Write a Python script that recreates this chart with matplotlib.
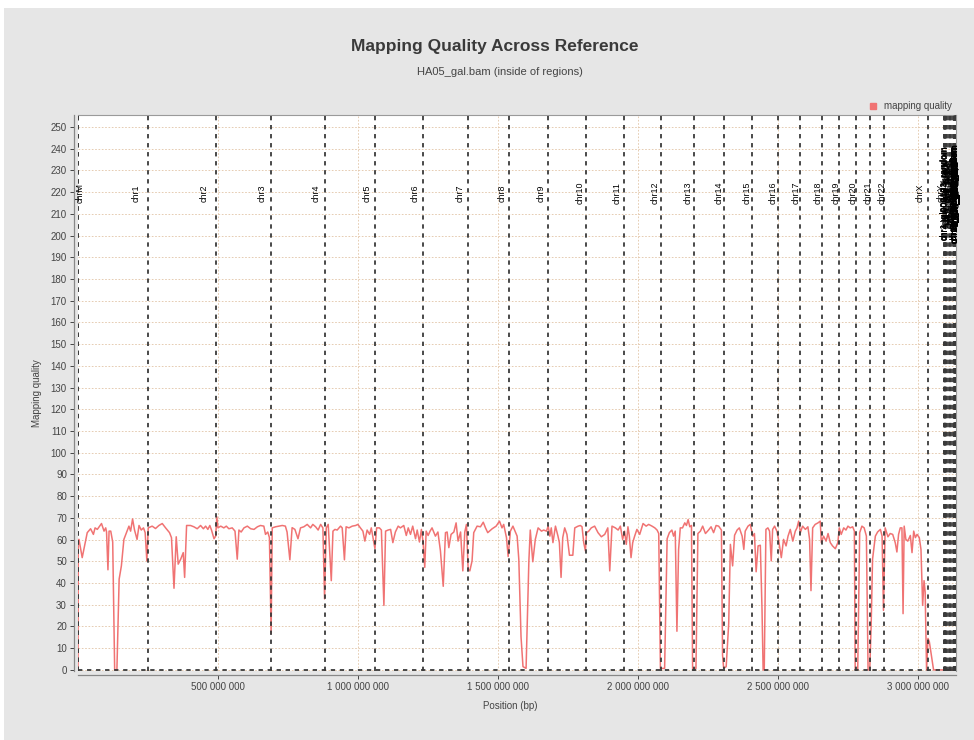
import matplotlib
matplotlib.use("Agg")
import matplotlib.pyplot as plt
from matplotlib import font_manager
from matplotlib.lines import Line2D
from matplotlib.patches import Rectangle
import numpy as np

# reference contigs (hg19 order, chrM first)
chrom_names = [
    "chrM", "chr1", "chr2", "chr3", "chr4", "chr5", "chr6", "chr7", "chr8", "chr9",
    "chr10", "chr11", "chr12", "chr13", "chr14", "chr15", "chr16", "chr17", "chr18",
    "chr19", "chr20", "chr21", "chr22", "chrX", "chrY",
    "chr1_gl000191_random", "chr1_gl000192_random", "chr4_ctg9_hap1",
    "chr4_gl000193_random", "chr4_gl000194_random", "chr6_apd_hap1", "chr6_cox_hap2",
    "chr6_dbb_hap3", "chr6_mann_hap4", "chr6_mcf_hap5", "chr6_qbl_hap6", "chr6_ssto_hap7",
    "chr7_gl000195_random", "chr8_gl000196_random", "chr8_gl000197_random",
    "chr9_gl000198_random", "chr9_gl000199_random", "chr9_gl000200_random",
    "chr9_gl000201_random", "chr11_gl000202_random", "chr17_ctg5_hap1",
    "chr17_gl000203_random", "chr17_gl000204_random", "chr17_gl000205_random",
    "chr17_gl000206_random", "chr18_gl000207_random", "chr19_gl000208_random",
    "chr19_gl000209_random", "chr21_gl000210_random",
    "chrUn_gl000211", "chrUn_gl000212", "chrUn_gl000213", "chrUn_gl000214",
    "chrUn_gl000215", "chrUn_gl000216", "chrUn_gl000217", "chrUn_gl000218",
    "chrUn_gl000219", "chrUn_gl000220", "chrUn_gl000221", "chrUn_gl000222",
    "chrUn_gl000223", "chrUn_gl000224", "chrUn_gl000225", "chrUn_gl000226",
    "chrUn_gl000227", "chrUn_gl000228", "chrUn_gl000229", "chrUn_gl000230",
    "chrUn_gl000231", "chrUn_gl000232", "chrUn_gl000233", "chrUn_gl000234",
    "chrUn_gl000235", "chrUn_gl000236", "chrUn_gl000237", "chrUn_gl000238",
    "chrUn_gl000239", "chrUn_gl000240", "chrUn_gl000241", "chrUn_gl000242",
    "chrUn_gl000243", "chrUn_gl000244", "chrUn_gl000245", "chrUn_gl000246",
    "chrUn_gl000247", "chrUn_gl000248", "chrUn_gl000249",
]
chrom_lengths = [
    16571, 249250621, 243199373, 198022430, 191154276, 180915260, 171115067,
    159138663, 146364022, 141213431, 135534747, 135006516, 133851895, 115169878,
    107349540, 102531392, 90354753, 81195210, 78077248, 59128983, 63025520,
    48129895, 51304566, 155270560, 59373566,
    106433, 547496, 590426, 189789, 191469, 4622290, 4795371, 4610396, 4683263,
    4833398, 4611984, 4928567, 182896, 38914, 37175, 90085, 169874, 187035, 36148,
    40103, 1680828, 37498, 81310, 174588, 41001, 4262, 92689, 159169, 27682,
    166566, 186858, 164239, 137718, 172545, 172294, 172149, 161147, 179198, 161802,
    155397, 186861, 180455, 179693, 211173, 15008, 128374, 129120, 19913, 43691,
    27386, 40652, 45941, 40531, 34474, 41934, 45867, 39939, 33824, 41933, 42152,
    43523, 43341, 39929, 36651, 38154, 36422, 39786, 38502,
]

# mapping quality along the reference (position in Mb, mean MQ)
mq_pos_mb = [
    0, 1, 3.5, 15, 27, 33, 45, 55, 61, 69, 84, 93, 99, 102, 107, 111, 117, 124, 131, 139,
    147, 155, 164, 174, 182, 188, 195, 202, 211, 218, 226, 234, 240, 246, 251, 265, 277,
    289, 301, 313, 327, 334, 343, 351, 358, 367, 376, 381, 388, 402, 414, 426, 438, 448,
    456, 464, 471, 477, 486, 492, 496, 500, 510, 521, 530, 539, 551, 561, 569, 575, 583,
    593, 605, 617, 629, 641, 652, 664, 670, 678, 684, 690, 694, 706, 718, 730, 741, 747,
    757, 765, 775, 786, 795, 807, 819, 831, 839, 849, 858, 867, 875, 881, 887, 894, 905,
    911, 918, 926, 938, 944, 952, 958, 968, 980, 992, 1000, 1009, 1018, 1025, 1033, 1042,
    1048, 1055, 1061, 1067, 1077, 1084, 1093, 1099, 1108, 1117, 1125, 1134, 1144, 1152,
    1164, 1173, 1180, 1188, 1196, 1206, 1212, 1220, 1227, 1233, 1239, 1244, 1251, 1258,
    1265, 1277, 1286, 1295, 1305, 1313, 1319, 1325, 1333, 1343, 1351, 1358, 1367, 1375,
    1382, 1388, 1394, 1400, 1408, 1414, 1426, 1438, 1448, 1456, 1464, 1480, 1494, 1506,
    1515, 1521, 1531, 1537, 1545, 1554, 1561, 1569, 1575, 1583, 1590, 1601, 1611, 1616,
    1625, 1634, 1644, 1656, 1664, 1674, 1680, 1686, 1691, 1697, 1706, 1715, 1720, 1726,
    1732, 1739, 1747, 1756, 1768, 1775, 1787, 1795, 1801, 1807, 1813, 1817, 1825, 1834,
    1846, 1858, 1870, 1882, 1893, 1900, 1908, 1920, 1930, 1938, 1946, 1953, 1959, 1965,
    1970, 1976, 1982, 1989, 1997, 2007, 2019, 2030, 2039, 2051, 2061, 2069, 2075, 2081,
    2096, 2105, 2113, 2122, 2128, 2134, 2140, 2146, 2152, 2160, 2168, 2174, 2180, 2186,
    2192, 2196, 2208, 2215, 2224, 2232, 2242, 2253, 2262, 2271, 2280, 2289, 2299, 2303,
    2307, 2316, 2325, 2331, 2339, 2346, 2355, 2363, 2373, 2379, 2384, 2394, 2402, 2411,
    2417, 2423, 2430, 2438, 2444, 2448, 2452, 2458, 2465, 2471, 2477, 2482, 2489, 2497,
    2503, 2513, 2521, 2530, 2537, 2545, 2554, 2563, 2569, 2575, 2581, 2589, 2599, 2608,
    2614, 2619, 2625, 2634, 2644, 2652, 2656, 2664, 2673, 2680, 2688, 2696, 2706, 2715,
    2720, 2727, 2736, 2744, 2751, 2759, 2768, 2774, 2777, 2786, 2793, 2801, 2809, 2817,
    2823, 2829, 2834, 2839, 2849, 2857, 2867, 2873, 2878, 2884, 2894, 2902, 2911, 2920,
    2926, 2932, 2938, 2944, 2948, 2952, 2958, 2965, 2974, 2980, 2986, 2992, 2998, 3006,
    3012, 3018, 3023, 3027, 3032, 3037, 3042, 3049, 3057, 3137,
]
mq_value = [
    0, 60, 60.1, 51.7, 59.3, 63.2, 65, 62.4, 65.4, 64.7, 67.4, 63.9, 65.4, 63.5, 46.1,
    63.9, 63.9, 58.9, 0, 0, 41.8, 47.9, 60.1, 63.5, 66.2, 63.9, 69.5, 64.4, 60.1, 66.5,
    64.4, 65.4, 63.2, 50.2, 65.4, 66.2, 65.1, 66.5, 67.4, 65.4, 63.2, 60.9, 37.6, 61.3,
    48.7, 51, 54, 42.6, 66.5, 66.5, 65.9, 65, 66.5, 65, 66.2, 64.7, 66.5, 64.4, 60.4, 61.6,
    70.5, 65.4, 66.2, 65.4, 66.2, 65, 65.4, 63.9, 51, 64.4, 63.5, 65.4, 66.2, 65, 64.7,
    65.9, 66.5, 66.2, 62.4, 63.5, 60.9, 16.7, 65.4, 65.9, 66.2, 66.5, 66.2, 63.5, 50.7,
    65.5, 64.7, 60.4, 65.4, 65.9, 67, 65.4, 67, 65.9, 64.4, 67, 65.4, 32.7, 65.4, 67,
    41.1, 63.9, 64.7, 64.4, 66.2, 65.4, 50.7, 65.9, 65.4, 66.2, 66.5, 67, 65.4, 63.9,
    59.3, 64.4, 62.4, 65.4, 60.1, 55.8, 65.4, 65.4, 64.4, 29.7, 63.9, 64.4, 64.7, 58.6,
    63.5, 66.2, 65.4, 66.5, 61.9, 65.4, 62.4, 66.2, 60.4, 64.4, 58.9, 64.7, 58.9, 47.2,
    63.9, 61.9, 63.9, 65.4, 61.6, 63.5, 54.8, 38.5, 63.2, 63.5, 56.3, 62.4, 63.5, 67.7,
    59.3, 63.5, 45.6, 63.5, 67, 46.4, 45.6, 50.2, 63.2, 66.2, 65.9, 68, 65.4, 63.2, 65,
    66.2, 68.5, 65.4, 67, 60.9, 52.2, 63.9, 66.2, 64, 61.6, 51, 15.2, 1.5, 0.7, 50.2,
    64.4, 49.8, 60.1, 65.4, 63.9, 64.4, 63.9, 66.2, 61.6, 65.4, 58.6, 66.2, 61.6, 58.6,
    42.6, 60.9, 65.4, 62.4, 52.8, 52.8, 65.4, 66.2, 66.5, 65.9, 58.6, 54.8, 63.2, 63.9,
    65.4, 66.2, 63.2, 61.3, 62.4, 65.4, 45.6, 66.2, 65.4, 64.4, 66.2, 60.1, 63.9, 57.8,
    65.9, 61.6, 51.7, 58.6, 61.6, 64.7, 62.4, 67.4, 66.2, 67, 66.2, 65.4, 64.4, 62.8,
    0.7, 0.7, 60.4, 63.2, 64.4, 61.6, 63.9, 17.8, 55.5, 65.4, 65.4, 67.7, 66.5, 69.2,
    65.9, 66.5, 0.7, 0.7, 62.8, 63.9, 66.2, 62.8, 64.4, 65.9, 63.2, 66.5, 66.2, 64.4,
    6.8, 0.7, 1.5, 21.3, 57.8, 47.9, 62, 64.4, 65.4, 61.6, 55.5, 63.9, 66.2, 67, 61.6,
    62.8, 45.2, 57.1, 57.4, 28.1, 0, 0, 64.7, 65.4, 63.9, 50.2, 64.7, 66.2, 63.9, 60.1,
    51.7, 60.1, 57.1, 61.6, 64.7, 59.3, 63.9, 65.4, 68.5, 63.2, 66.2, 64.7, 65.9, 60.1,
    36.5, 65.4, 67, 67.7, 68.5, 58.6, 61.6, 59.3, 62.8, 58.6, 57.1, 55.8, 58.6, 65.4,
    62.4, 65.4, 64.4, 66.2, 65.4, 65.9, 63.9, 0, 0, 63.2, 66.2, 65.4, 61.6, 0, 0, 20.5,
    51, 61.6, 63.5, 64.7, 61.6, 27.4, 65.4, 61.3, 62.8, 62.4, 58.6, 54.3, 62.4, 65.4,
    65.4, 25.9, 66.2, 60.1, 59.3, 61.9, 54, 63.9, 60.9, 62.4, 60.9, 55.5, 29.7, 41.1,
    35.8, 0, 14.5, 12.9, 6.8, 0, 0,
]

y_ticks = list(range(0, 251, 10))
x_ticks = [500e6, 1000e6, 1500e6, 2000e6, 2500e6, 3000e6]

available = {f.name for f in font_manager.fontManager.ttflist}
narrow = "Liberation Sans Narrow" if "Liberation Sans Narrow" in available else "Liberation Sans"
plt.rcParams["font.family"] = ["Liberation Sans", "DejaVu Sans"]

fig = plt.figure(figsize=(9.74, 7.4), dpi=100, facecolor="white")
fig.patches.append(Rectangle((4 / 974, 0), 1, 732 / 740, transform=fig.transFigure,
                             facecolor="#e6e6e6", edgecolor="none", zorder=-10))

ax = fig.add_axes([78 / 974, 69 / 740, 878 / 974, 556 / 740])
ax.set_facecolor("white")

total = float(np.sum(chrom_lengths))
ends = np.cumsum(chrom_lengths)
starts = ends - np.array(chrom_lengths)

ax.set_xlim(0, total)
ax.set_ylim(-0.5, 255.5)

# grid
for yv in y_ticks:
    ax.axhline(yv, color="#e2c4a6", lw=0.6, ls=(0, (2, 2)), zorder=0)
for xv in x_ticks:
    ax.axvline(xv, color="#e2c4a6", lw=0.6, ls=(0, (2, 2)), zorder=0)

# mapping quality line
ax.plot(np.array(mq_pos_mb) * 1e6, mq_value, color="#f07373", lw=1.1, zorder=3)

# chromosome boundaries and names
marker_style = dict(color="#3a3a3a", lw=1.3, ls=(0, (2.4, 2.6)), zorder=4)
ax.axvline(0, **marker_style)
for name, s, e, ln in zip(chrom_names, starts, ends, chrom_lengths):
    ax.axvline(e, **marker_style)
    lx = max(s + 0.83 * ln, 7e6)
    ax.text(lx, 219.5, name, rotation=90, rotation_mode="anchor", ha="center",
            va="center", fontsize=6.4, color="black", family=narrow, zorder=5)
ax.axhline(0, **marker_style)

# axes styling
for side in ["top", "right"]:
    ax.spines[side].set_color("#9a9a9a")
    ax.spines[side].set_linewidth(0.8)
for side in ["left", "bottom"]:
    ax.spines[side].set_position(("outward", 3))
    ax.spines[side].set_color("#888888")
    ax.spines[side].set_linewidth(0.9)

ax.set_yticks(y_ticks)
ax.set_xticks(x_ticks)
ax.set_xticklabels([f"{int(v):,}".replace(",", " ") for v in x_ticks])
ax.tick_params(axis="both", labelsize=7, colors="#444444", length=3, width=0.7, pad=2)

ax.set_xlabel("Position (bp)", fontsize=7, color="#444444")
ax.xaxis.set_label_coords(0.492, -0.054)
ax.set_ylabel("Mapping quality", fontsize=7, color="#444444")
ax.yaxis.set_label_coords(-0.041, 0.5)

fig.text(495 / 974, 1 - 47 / 740, "Mapping Quality Across Reference", ha="center",
         va="center", fontsize=12.5, fontweight="bold", color="#3a3a3a", family=narrow)
fig.text(500 / 974, 1 - 72 / 740, "HA05_gal.bam (inside of regions)", ha="center",
         va="center", fontsize=8, color="#444444", family=narrow)

handle = Line2D([], [], marker="s", linestyle="none", color="#f07373", markersize=5)
ax.legend([handle], ["mapping quality"], loc="lower right", bbox_to_anchor=(1.0, 1.0),
          frameon=False, fontsize=7, handletextpad=0.2, borderpad=0.2,
          borderaxespad=0.2, labelcolor="#444444")

fig.savefig("out.png", dpi=100, facecolor=fig.get_facecolor())
